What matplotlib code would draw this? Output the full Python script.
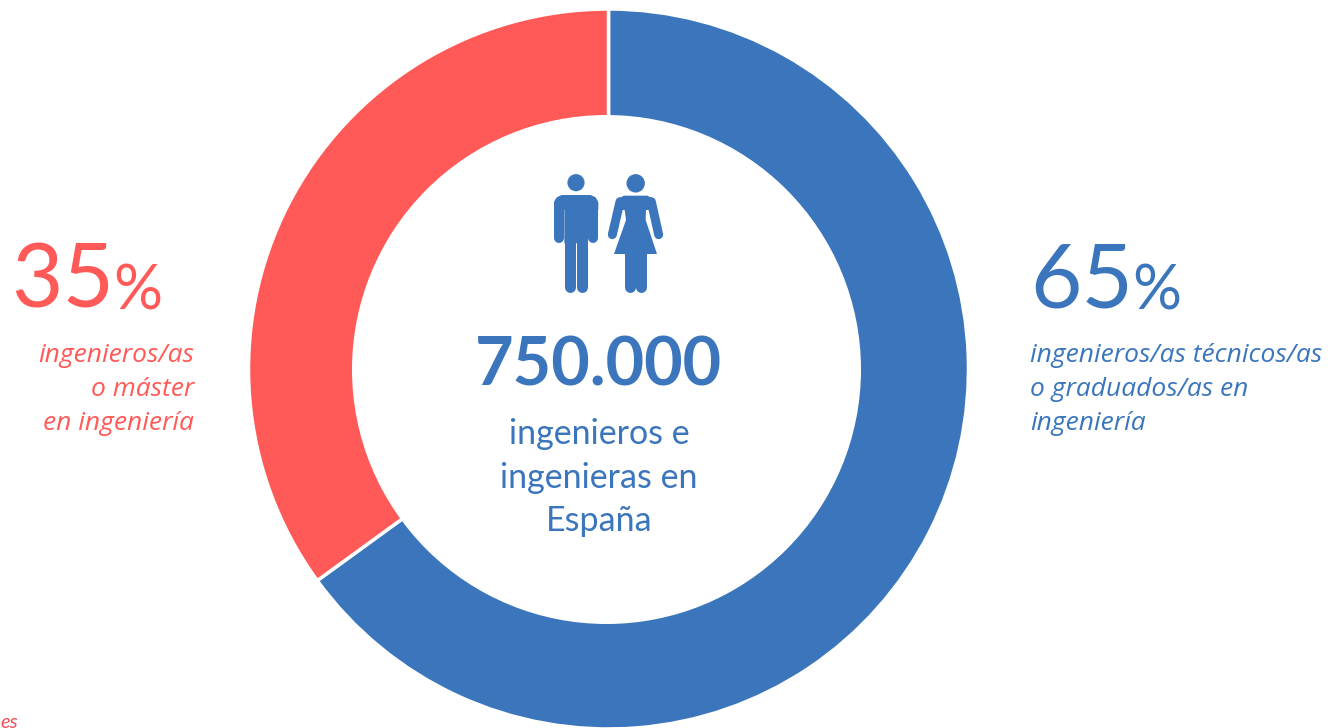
#!/usr/bin/python3
# -*- coding:utf-8 -*-
import matplotlib
matplotlib.use('Agg')
import matplotlib.pyplot as plt
from matplotlib.patches import Circle, Polygon

shares = [65, 35]
colors = ['#3B76BC', '#FF5A57']
big_blue = '65'
big_red = '35'
total = '750.000'
center_lines = ['ingenieros e', 'ingenieras en', 'España']
red_lines = ['ingenieros/as', 'o máster', 'en ingeniería']
blue_lines = ['ingenieros/as técnicos/as', 'o graduados/as en', 'ingeniería']

W, H = 1334, 728
BLUE, RED = colors

plt.rcParams['font.family'] = ['Lato', 'DejaVu Sans']

fig = plt.figure(figsize=(W / 100, H / 100), dpi=100, facecolor='white')
ax = fig.add_axes([0, 0, 1, 1])
ax.set_xlim(0, W)
ax.set_ylim(0, H)
ax.axis('off')


def Y(y):
    # picture rows run downwards, the axes upwards
    return H - y


ax.pie(shares, colors=colors, startangle=90, counterclock=False,
       center=(608.5, Y(369)), radius=360, frame=True,
       wedgeprops=dict(width=120, edgecolor='white', linewidth=2.5))
ax.set_xlim(0, W)
ax.set_ylim(0, H)
ax.set_aspect('equal')
ax.axis('off')
# the hole sits a little left of the ring's centre in the reference
ax.add_patch(Circle((606.5, Y(369.5)), 254.5, color='white', lw=0, zorder=3))


def pts(points):
    return [(530 + x / 3, Y(160 + y / 3)) for x, y in points]


def limb(x0, y0, x1, y1, width):
    (a, b), (c, d) = pts([(x0, y0), (x1, y1)])
    ax.plot([a, c], [b, d], color=BLUE, lw=width * 0.72, solid_capstyle='round', zorder=4)


def shape(points):
    ax.add_patch(Polygon(pts(points), color=BLUE, lw=0, zorder=4))


# man
ax.add_patch(Circle(pts([(138, 68)])[0], 8.6, color=BLUE, lw=0, zorder=4))
shape([(95, 105), (182, 105), (197, 112), (205, 128), (205, 150), (174, 150), (174, 250),
       (103, 250), (103, 150), (72, 150), (72, 128), (80, 112)])
limb(87, 130, 87, 233, 10)
limb(190, 130, 190, 233, 10)
limb(120, 240, 120, 382, 11)
limb(156, 240, 156, 382, 11)

# woman
ax.add_patch(Circle(pts([(317, 70)])[0], 9.2, color=BLUE, lw=0, zorder=4))
shape([(282, 107), (352, 107), (368, 115), (378, 130), (362, 150), (348, 150), (347, 180), (381, 282),
       (252, 282), (288, 180), (284, 150), (272, 150), (256, 130), (266, 115)])
limb(270, 125, 247, 224, 9)
limb(364, 125, 386, 224, 9)
limb(300, 280, 300, 382, 11)
limb(333, 280, 333, 382, 11)

# centre text
ax.text(598, Y(366), total, color=BLUE, fontsize=48, fontweight='bold',
        ha='center', va='center', zorder=5)
for line, y in zip(center_lines, [434, 478, 521]):
    ax.text(599, Y(y), line, color=BLUE, fontsize=24.5, ha='center', va='center', zorder=5)

# side labels
ax.text(11, Y(283), big_red, color=RED, fontsize=64, ha='left', va='center')
ax.text(113, Y(292), '%', color=RED, fontsize=44, ha='left', va='center')
for line, y in zip(red_lines, [355, 389, 424]):
    ax.text(194, Y(y), line, color=RED, fontsize=19, style='italic', ha='right', va='center',
            family=['Open Sans', 'DejaVu Sans'])

ax.text(1030, Y(283), big_blue, color=BLUE, fontsize=64, ha='left', va='center')
ax.text(1132, Y(292), '%', color=BLUE, fontsize=44, ha='left', va='center')
for line, y in zip(blue_lines, [355, 389, 424]):
    ax.text(1030, Y(y), line, color=BLUE, fontsize=19, style='italic', ha='left', va='center',
            family=['Open Sans', 'DejaVu Sans'])

# cut-off footnote at the bottom edge
ax.text(0, Y(722), 'es', color='#E8505A', fontsize=14.5, style='italic', ha='left', va='center')

fig.savefig('out.png', dpi=100, facecolor='white')
